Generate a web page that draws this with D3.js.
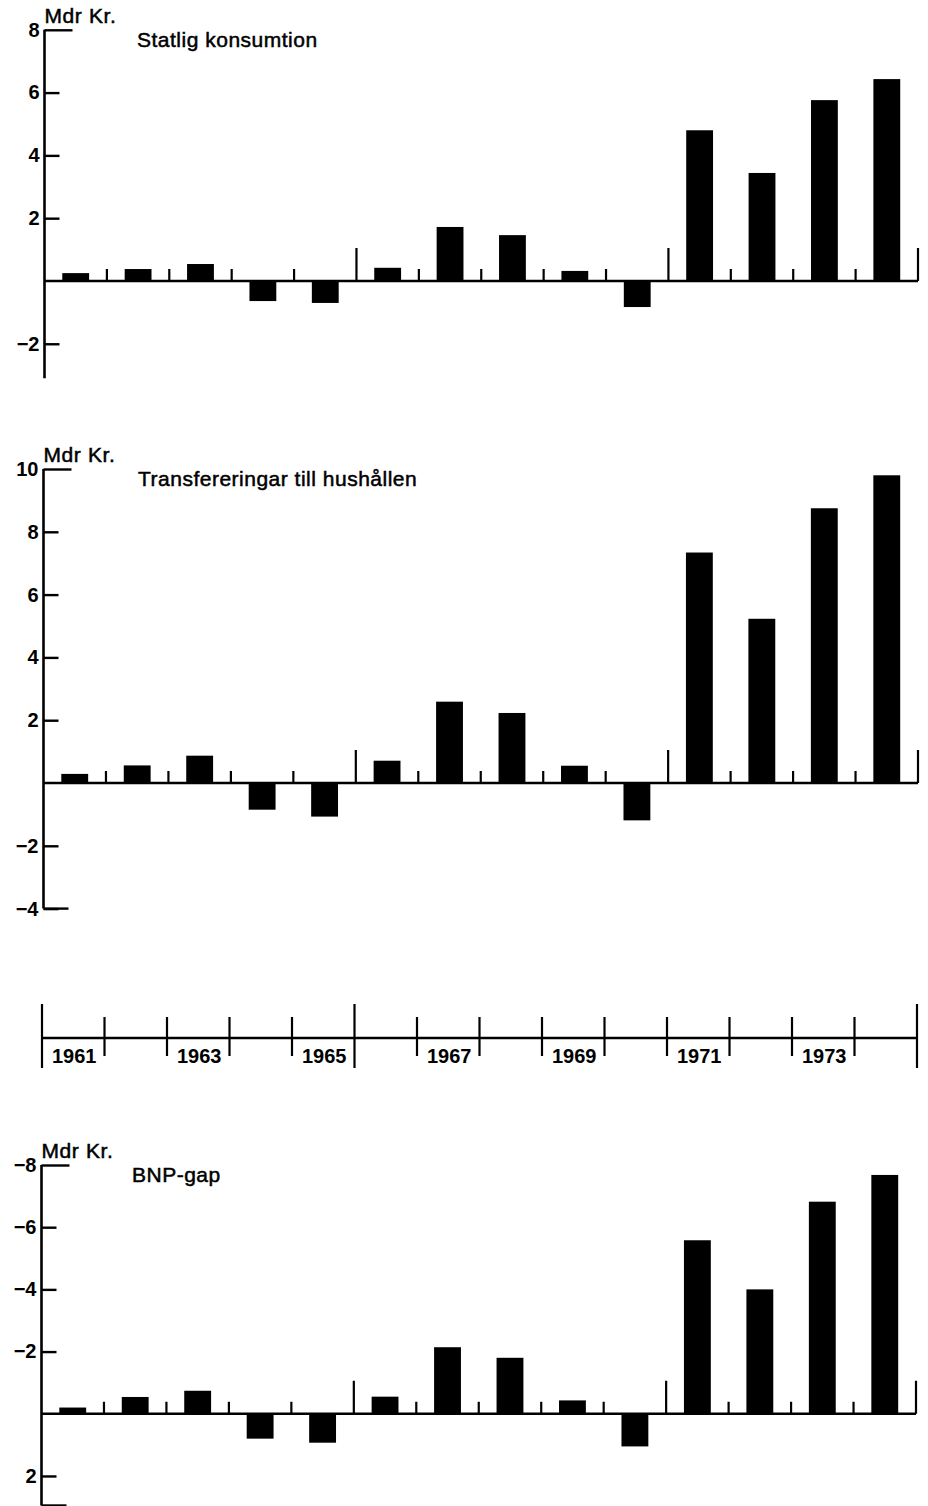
<!DOCTYPE html>
<html>
    <head>
        <title>Statlig konsumtion, transfereringar och BNP-gap</title>
        <meta charset="UTF-8">
        <script src="https://d3js.org/d3.v7.min.js"></script>
        <style>
            body { margin: 0; background: #fff; }
            text { font-family: "Liberation Sans", Arial, sans-serif; fill: #000; }
        </style>
    </head>
    <body>
        <script>
            var w = 928, h = 1506;

            // data (Mdr Kr.)
            var years = [1961,1962,1963,1964,1965,1966,1967,1968,1969,1970,1971,1972,1973,1974];
            var statligKonsumtion = [0.25,0.38,0.54,-0.64,-0.70,0.42,1.72,1.46,0.32,-0.83,4.80,3.44,5.76,6.43];
            var transfereringar = [0.29,0.56,0.87,-0.85,-1.07,0.71,2.59,2.23,0.55,-1.19,7.34,5.23,8.75,9.80];
            var bnpGap = [-0.20,-0.54,-0.74,0.80,0.93,-0.55,-2.14,-1.80,-0.43,1.05,-5.58,-4.00,-6.82,-7.68];

            var ticksStatlig = [8,6,4,2,-2];
            var ticksTransf = [10,8,6,4,2,-2,-4];
            var ticksBnp = [-8,-6,-4,-2,2];
            var yearLabels = [1961,1963,1965,1967,1969,1971,1973];
            var longMarks = [1966,1971,1975];
            var longMarksTimeline = [1961,1966,1975];

            var svg = d3.select("body").append("svg")
                    .attr("width", w)
                    .attr("height", h);

            var fmt = function(d){ return d < 0 ? "\u2212" + Math.abs(d) : "" + d; };

            function panel(p){
                var g = svg.append("g");
                var x = d3.scaleBand()
                        .domain(years)
                        .range([p.left, p.right])
                        .paddingInner(0.57)
                        .paddingOuter(0.285);
                var xb = d3.scaleLinear().domain([1961,1975]).range([p.left, p.right]);
                var y = d3.scaleLinear().domain(p.domain).range(p.range);

                // bars
                g.selectAll("rect")
                        .data(p.values)
                        .enter()
                        .append("rect")
                        .attr("x", function(d,i){ return x(years[i]); })
                        .attr("y", function(d){ return Math.min(y(d), y(0)); })
                        .attr("width", x.bandwidth())
                        .attr("height", function(d){ return Math.abs(y(d) - y(0)); })
                        .attr("fill", "#000");

                // zero line
                g.append("line")
                        .attr("x1", p.left).attr("x2", p.right)
                        .attr("y1", y(0)).attr("y2", y(0))
                        .attr("stroke", "#000").attr("stroke-width", 2.6);

                // year boundary marks
                g.selectAll("line.mark")
                        .data(d3.range(1962, 1976))
                        .enter()
                        .append("line")
                        .attr("class", "mark")
                        .attr("x1", function(d){ return xb(d); })
                        .attr("x2", function(d){ return xb(d); })
                        .attr("y1", y(0))
                        .attr("y2", function(d){ return y(0) - (longMarks.indexOf(d) >= 0 ? 33 : 12); })
                        .attr("stroke", "#000").attr("stroke-width", 2.2);

                // y axis
                var ax = g.append("g")
                        .attr("transform", "translate(" + p.left + ",0)")
                        .call(d3.axisLeft(y).tickValues(p.ticks).tickSize(-15).tickPadding(5).tickFormat(fmt));
                ax.select(".domain").remove();
                ax.selectAll(".tick line").attr("stroke", "#000").attr("stroke-width", 2.4);
                ax.selectAll(".tick text")
                        .attr("font-size", 20)
                        .attr("font-weight", "bold")
                        .attr("font-family", "'Liberation Sans', Arial, sans-serif")
                        .attr("fill", "#000");
                ax.selectAll(".tick")
                        .filter(function(d){ return d === p.domain[0]; })
                        .select("line").attr("x2", 28);

                g.append("line")
                        .attr("x1", p.left).attr("x2", p.left)
                        .attr("y1", p.range[0]).attr("y2", p.range[1])
                        .attr("stroke", "#000").attr("stroke-width", 2.6);
                if (p.bottomCorner) {
                    g.append("line")
                            .attr("x1", p.left).attr("x2", p.left + 25)
                            .attr("y1", p.range[1]).attr("y2", p.range[1])
                            .attr("stroke", "#000").attr("stroke-width", 2.4);
                }

                g.append("text")
                        .attr("x", p.left)
                        .attr("y", p.range[0] - 7)
                        .attr("font-size", 21)
                        .attr("letter-spacing", 0.6)
                        .attr("stroke", "#000").attr("stroke-width", 0.5)
                        .text("Mdr Kr.");
                g.append("text")
                        .attr("x", p.titleX)
                        .attr("y", p.range[0] + 17)
                        .attr("font-size", 21)
                        .attr("letter-spacing", 0.5)
                        .attr("stroke", "#000").attr("stroke-width", 0.5)
                        .text(p.title);
            }

            panel({values: statligKonsumtion, ticks: ticksStatlig, domain: [8, -3.1], range: [29.8, 378.3],
                   left: 44.5, right: 918, title: "Statlig konsumtion", titleX: 137, bottomCorner: false});
            panel({values: transfereringar, ticks: ticksTransf, domain: [10, -4], range: [469, 908.6],
                   left: 43.5, right: 918, title: "Transfereringar till hushållen", titleX: 138, bottomCorner: true});
            panel({values: bnpGap, ticks: ticksBnp, domain: [-8, 2.95], range: [1165, 1505.5],
                   left: 41.5, right: 916, title: "BNP-gap", titleX: 132, bottomCorner: true});

            // time strip between the panels
            var tl = svg.append("g");
            var tx = d3.scaleLinear().domain([1961,1975]).range([42, 917]);
            var tBand = d3.scaleBand().domain(years).range([42, 917]);
            var ty = 1038;
            tl.append("line")
                    .attr("x1", tx(1961)).attr("x2", tx(1975))
                    .attr("y1", ty).attr("y2", ty)
                    .attr("stroke", "#000").attr("stroke-width", 2.6);
            tl.selectAll("line.yr")
                    .data(d3.range(1961, 1976))
                    .enter()
                    .append("line")
                    .attr("class", "yr")
                    .attr("x1", function(d){ return tx(d); })
                    .attr("x2", function(d){ return tx(d); })
                    .attr("y1", function(d){ return longMarksTimeline.indexOf(d) >= 0 ? ty - 34 : ty - 21; })
                    .attr("y2", function(d){ return longMarksTimeline.indexOf(d) >= 0 ? ty + 30 : ty + 18; })
                    .attr("stroke", "#000").attr("stroke-width", 2.2);
            tl.selectAll("text")
                    .data(yearLabels)
                    .enter()
                    .append("text")
                    .attr("x", function(d){ return tBand(d) + tBand.bandwidth()/2 + 1; })
                    .attr("y", ty + 25)
                    .attr("text-anchor", "middle")
                    .attr("font-size", 20)
                    .attr("font-weight", "bold")
                    .text(function(d){ return d; });
        </script>
    </body>
</html>
